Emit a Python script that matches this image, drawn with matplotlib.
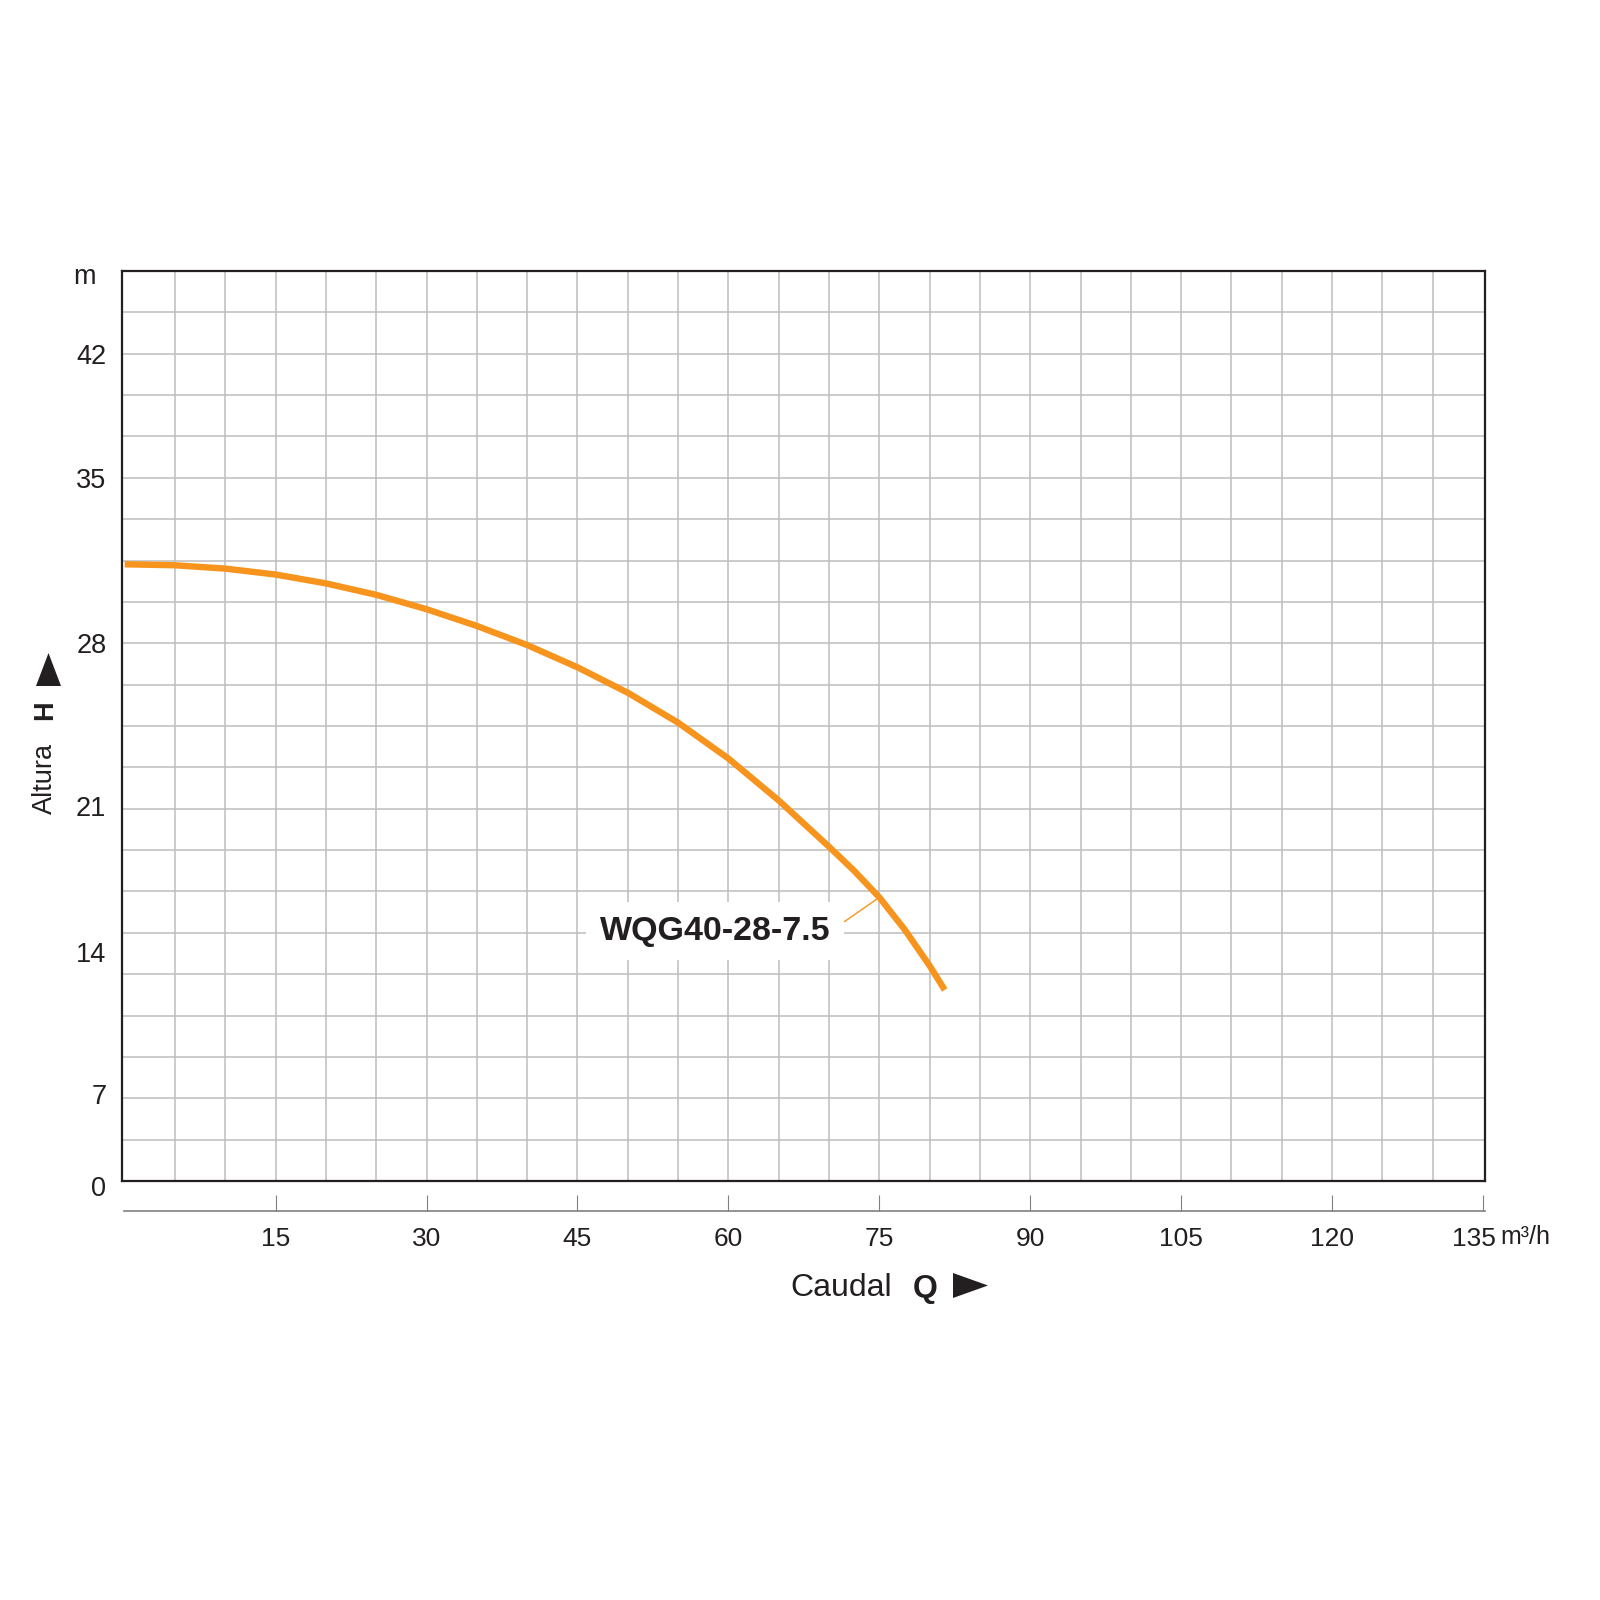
import matplotlib.pyplot as plt
import numpy as np
from matplotlib.patches import Polygon
from matplotlib.transforms import ScaledTranslation

plt.rcParams['font.family'] = ['Liberation Sans', 'DejaVu Sans']

# pump curve (Q in m3/h, H on the linear grid scale)
flow = [0, 5, 10, 15, 20, 25, 30, 35, 40, 45, 50, 55, 60, 65, 70,
        72.5, 75, 77.5, 80, 81.5]
head = [31.31, 31.26, 31.09, 30.79, 30.34, 29.76, 29.03, 28.18, 27.21, 26.08,
        24.79, 23.27, 21.45, 19.32, 16.97, 15.75, 14.40, 12.78, 10.93, 9.70]
curve_label = 'WQG40-28-7.5'
label_at = 16  # point of the curve the leader line goes to

x_ticks = [15, 30, 45, 60, 75, 90, 105, 120, 135]
y_tick_text = ['0', '7', '14', '21', '28', '35', '42']
y_tick_pos = [0, 4.42, 11.63, 19.04, 27.31, 35.71, 41.99]

orange = '#f7941d'
dark = '#231f20'
grid_col = '#bdbdbd'

W = 1600


def fx(x):
    return x / W


def fy(y):
    return 1 - y / W


fig = plt.figure(figsize=(16, 16), dpi=100)

# main framed grid
ax = fig.add_axes([fx(121.7), fy(1181), (1485 - 121.7) / W, (1181 - 271) / W])
ax.set_xlim(-0.3, 135.2)
ax.set_ylim(0, 46.2)
ax.set_xticks([])
ax.set_xticks(np.arange(5, 135, 5), minor=True)
ax.set_yticks(y_tick_pos, y_tick_text)
ax.set_yticks(np.arange(2.1, 46.0, 2.1), minor=True)
ax.grid(which='minor', color=grid_col, lw=1.1)
ax.tick_params(which='both', length=0)
ax.tick_params(axis='y', pad=11, labelsize=19.5, labelcolor=dark)
for s in ax.spines.values():
    s.set_color(dark)
    s.set_linewidth(1.6)
ax.set_axisbelow(True)

# the "0" label sits a little below the frame
lab0 = ax.get_yticklabels()[0]
lab0.set_transform(lab0.get_transform() + ScaledTranslation(0, -0.05, fig.dpi_scale_trans))

ax.plot(flow, head, color=orange, lw=4.6, solid_capstyle='butt',
        solid_joinstyle='round', zorder=3)

ax.annotate(curve_label, xy=(flow[label_at], head[label_at]), xytext=(58.7, 12.68),
            ha='center', va='center', fontsize=24.5, fontweight='bold', color=dark,
            bbox=dict(boxstyle='square,pad=0.4', fc='white', ec='none'),
            arrowprops=dict(arrowstyle='-', color=orange, lw=1, shrinkA=0, shrinkB=0,
                            relpos=(1.0, 0.5)),
            zorder=4)

# separate flow scale under the frame
ax2 = fig.add_axes([fx(123.7), fy(1210.7), (1485 - 123.7) / W, 0.01])
ax2.set_xlim(-0.1, 135.2)
ax2.patch.set_visible(False)
for k in ['left', 'right', 'top']:
    ax2.spines[k].set_visible(False)
ax2.spines['bottom'].set_color('#808080')
ax2.spines['bottom'].set_linewidth(1.2)
ax2.set_yticks([])
ax2.set_xticks(x_ticks, [str(v) for v in x_ticks])
ax2.tick_params(axis='x', direction='in', length=11.5, width=0.8, color='#808080',
                pad=12, labelsize=19, labelcolor=dark)
last = ax2.get_xticklabels()[-1]
last.set_transform(last.get_transform() + ScaledTranslation(-0.09, 0, fig.dpi_scale_trans))

fig.text(fx(1500), fy(1237), 'm³/h', fontsize=18, color=dark, ha='left', va='center')
fig.text(fx(84), fy(277), 'm', fontsize=19.5, color=dark, ha='center', va='center')

# axis titles
fig.text(fx(790), fy(1296.5), 'Caudal', fontsize=23, color=dark, ha='left', va='baseline')
fig.text(fx(925), fy(1296.5), 'Q', fontsize=23, fontweight='bold', color=dark,
         ha='center', va='baseline')
fig.add_artist(Polygon([[fx(953), fy(1273)], [fx(953), fy(1298)], [fx(988), fy(1285.5)]],
                       closed=True, transform=fig.transFigure, fc=dark, ec='none'))

fig.text(fx(45), fy(778), 'Altura', fontsize=19.5, color=dark, rotation=90,
         ha='center', va='center')
fig.text(fx(45), fy(710), 'H', fontsize=19.5, fontweight='bold', color=dark, rotation=90,
         ha='center', va='center')
fig.add_artist(Polygon([[fx(36), fy(686)], [fx(61), fy(686)], [fx(48.5), fy(653)]],
                       closed=True, transform=fig.transFigure, fc=dark, ec='none'))

fig.savefig('out.png', dpi=100, facecolor='white')
